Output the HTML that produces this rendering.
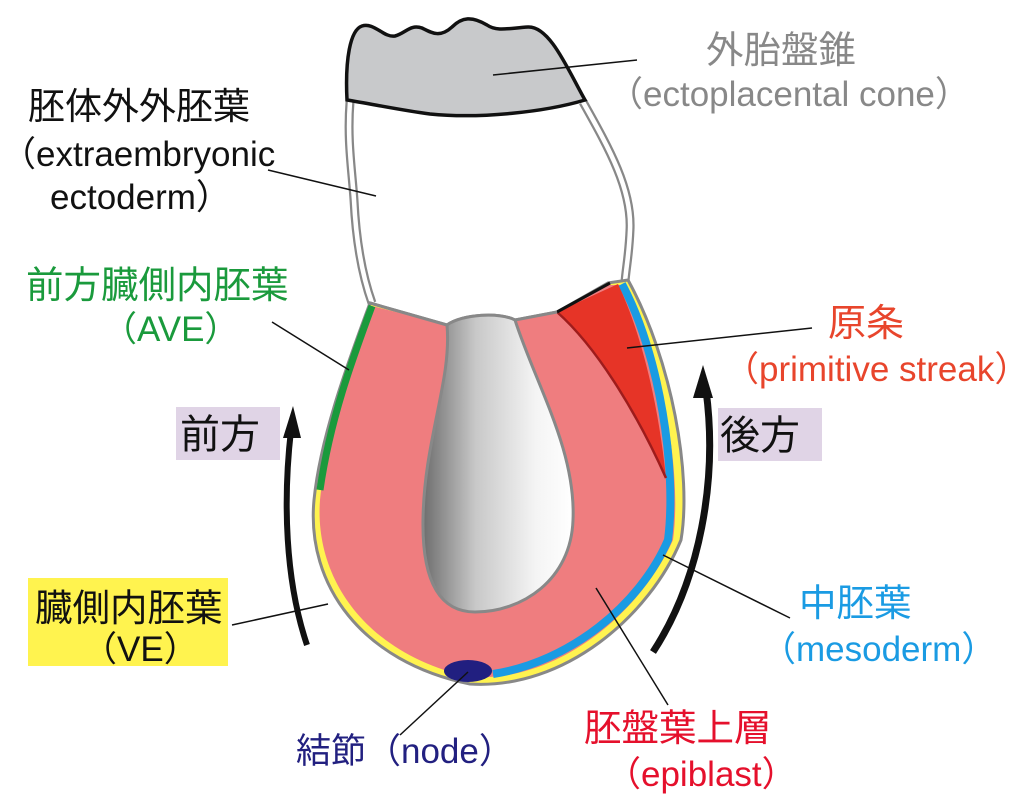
<!DOCTYPE html>
<html><head><meta charset="utf-8"><style>
html,body{margin:0;padding:0;background:#fff;}
svg{display:block;}
text{font-family:"Liberation Sans","Noto Sans CJK JP",sans-serif;}
</style></head><body>
<svg width="1024" height="809" viewBox="0 0 1024 809" xmlns="http://www.w3.org/2000/svg">
<defs>
<linearGradient id="cav" x1="0" x2="1" y1="0" y2="0">
<stop offset="0" stop-color="#6e6e6e"/><stop offset="0.35" stop-color="#c8c8c8"/><stop offset="0.75" stop-color="#f4f4f4"/><stop offset="1" stop-color="#ffffff"/>
</linearGradient>
</defs>

<path d="M350,102 C347,140 352,170 354,200 C356,240 362,275 372,303" fill="none" stroke="#888" stroke-width="9"/>
<path d="M350,102 C347,140 352,170 354,200 C356,240 362,275 372,303" fill="none" stroke="#fff" stroke-width="4.5"/>
<path d="M583,102 C610,150 632,190 630,230 C629,255 626,268 625,282" fill="none" stroke="#888" stroke-width="9"/>
<path d="M583,102 C610,150 632,190 630,230 C629,255 626,268 625,282" fill="none" stroke="#fff" stroke-width="4.5"/>

<path d="M347,100 C345,60 350,30 362,26 C374,22 384,38 395,36 C406,33 410,24 422,28 C432,33 440,38 452,27 C462,17 472,16 487,25 C497,32 510,28 528,27 C550,26 568,70 585,100 C545,112 480,119 430,114 C400,110 372,104 347,100 Z" fill="#c8c9cb" stroke="#111" stroke-width="3.5"/>

<path d="M370,303 C345,370 320,440 314,500 C306,585 362,662 470,684 C565,690 650,615 681,540 C692,475 672,360 628,280 L608,283 L557,312 L515,320 C500,312 462,314 447,325 Z" fill="#fff34f" stroke="#888" stroke-width="3"/>
<path d="M372,306 C350,370 326,440 320,500 C314,580 368,655 470,677 C560,683 642,610 673,540 C682,475 664,360 622,285 L608,285 L557,312 L515,320 C500,312 462,314 447,325 Z" fill="#ef7d7f"/>
<path d="M622,284 C660,355 677,470 668,540 C640,605 570,662 493,674" fill="none" stroke="#1a9be3" stroke-width="8"/>
<path d="M557,312 L618,284 C640,330 658,400 666,478 C640,420 600,350 557,312 Z" fill="#e63427"/>
<path d="M557,312 C600,350 640,420 666,478" fill="none" stroke="#9e1c1c" stroke-width="2.5"/>
<path d="M557,312 L610,283" stroke="#111" stroke-width="3"/>
<path d="M372,306 C352,360 330,420 320,490" fill="none" stroke="#1a9a3c" stroke-width="7"/>
<path d="M370,303 L447,325" stroke="#888" stroke-width="3"/>
<path d="M515,320 L557,312" stroke="#888" stroke-width="3"/>
<path d="M447,325 C452,380 424,440 423,520 C422,585 442,612 475,612 C522,612 571,580 573,520 C576,450 536,385 515,320 C500,312 462,314 447,325 Z" fill="url(#cav)" stroke="#888" stroke-width="3"/>
<ellipse cx="468" cy="671" rx="24" ry="11" fill="#211f80"/>

<path d="M307,645 C285,580 283,500 291,430" fill="none" stroke="#111" stroke-width="6"/>
<polygon points="293,406 283,438 301,438" fill="#111"/>
<path d="M653,652 C700,580 718,480 706,390" fill="none" stroke="#111" stroke-width="7"/>
<polygon points="703,365 693,398 713,398" fill="#111"/>

<g stroke="#111" stroke-width="1.5">
<line x1="493" y1="75" x2="637" y2="60"/>
<line x1="268" y1="170" x2="376" y2="196"/>
<line x1="272" y1="322" x2="349" y2="370"/>
<line x1="627" y1="348" x2="812" y2="328"/>
<line x1="232" y1="625" x2="328" y2="604"/>
<line x1="663" y1="555" x2="790" y2="618"/>
<line x1="596" y1="588" x2="668" y2="705"/>
<line x1="468" y1="672" x2="400" y2="735"/>
</g>

<rect x="176" y="407" width="104" height="53" fill="#e0d4e6"/>
<rect x="718" y="408" width="104" height="53" fill="#e0d4e6"/>
<rect x="28" y="578" width="200" height="88" fill="#fff34f"/>

<g font-size="35">
<text x="28" y="119" fill="#111" font-size="37">胚体外外胚葉</text>
<text x="1" y="166" fill="#111">（extraembryonic</text>
<text x="50" y="209" fill="#111">ectoderm）</text>
<text x="26" y="298" fill="#1a9a3c" font-size="37.5">前方臓側内胚葉</text>
<text x="102" y="341" fill="#1a9a3c">（AVE）</text>
<text x="180" y="448" fill="#111" font-size="40">前方</text>
<text x="720" y="449" fill="#111" font-size="40">後方</text>
<text x="706" y="63" fill="#888" font-size="37.5">外胎盤錐</text>
<text x="608" y="106" fill="#888">（ectoplacental cone）</text>
<text x="828" y="336" fill="#e8452c" font-size="38">原条</text>
<text x="724" y="381" fill="#e8452c">（primitive streak）</text>
<text x="35" y="621" fill="#111" font-size="37.5">臓側内胚葉</text>
<text x="82" y="661" fill="#111">（VE）</text>
<text x="799" y="616" fill="#1a9be3" font-size="37.5">中胚葉</text>
<text x="761" y="661" fill="#1a9be3">（mesoderm）</text>
<text x="584" y="741" fill="#e5102c" font-size="37.5">胚盤葉上層</text>
<text x="606" y="786" fill="#e5102c">（epiblast）</text>
<text x="296" y="763" fill="#222080">結節（node）</text>
</g>
</svg>
</body></html>
